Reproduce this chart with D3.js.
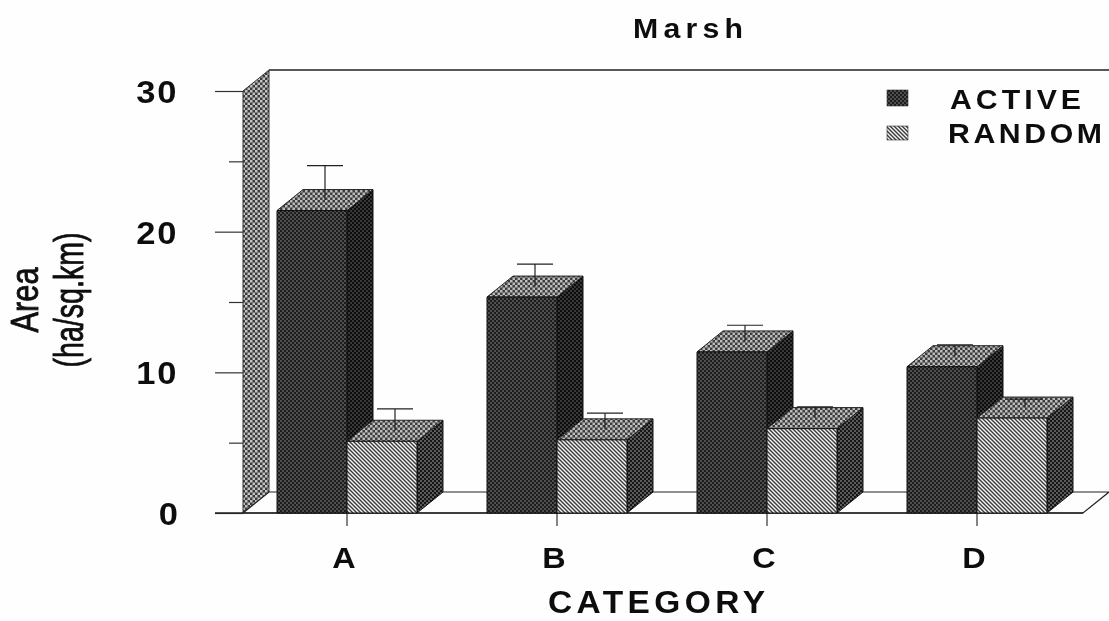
<!DOCTYPE html>
<html><head><meta charset="utf-8">
<script src="https://cdnjs.cloudflare.com/ajax/libs/d3/7.8.5/d3.min.js"></script>
<style>
html,body{margin:0;padding:0;background:#fefefe;overflow:hidden}
svg{display:block}
text{font-family:"Liberation Sans",Arial,sans-serif;fill:#111;font-weight:bold}
</style></head><body>
<svg id="c" width="1109" height="621"></svg>
<script>
const categories = ["A","B","C","D"];
const seriesNames = ["ACTIVE","RANDOM"];
const activeValues = [21.5,15.35,11.45,10.4];
const randomValues = [5.1,5.2,6.0,6.75];
const activeUpper = [23.95,16.95,12.6,11.2];
const randomUpper = [6.65,6.35,6.8,7.35];
const majorTicks = [0,10,20,30];
const minorTicks = [5,15,25];

const W=1109,H=621;
const dx=26, dy=-21; // 3-D depth offset
const svg=d3.select("#c");
const y=d3.scaleLinear().domain([0,30]).range([513,91]);
const x=d3.scaleBand().domain(categories).range([242,1082]);
const sub=d3.scaleBand().domain(seriesNames).range([-70,70]);
const yMax=y(30);
const FONT='"Liberation Sans",Arial,sans-serif';
const WIDEN=1.08;

const defs=svg.append("defs");
defs.append("filter").attr("id","scan").attr("x",0).attr("y",0).attr("width","100%").attr("height","100%")
  .append("feGaussianBlur").attr("stdDeviation",0.5);
function checker(id,bg,fg,size){
  const p=defs.append("pattern").attr("id",id).attr("patternUnits","userSpaceOnUse").attr("width",size*2).attr("height",size*2);
  p.append("rect").attr("width",size*2).attr("height",size*2).attr("fill",bg);
  p.append("rect").attr("width",size).attr("height",size).attr("fill",fg);
  p.append("rect").attr("x",size).attr("y",size).attr("width",size).attr("height",size).attr("fill",fg);
}
checker("pFront","#1a1a1a","#505050",2);
checker("pSide","#0a0a0a","#383838",2);
checker("pTop","#3c3c3c","#bcbcbc",2.5);
checker("pWall","#3a3a3a","#c4c4c4",2.5);
checker("pSideR","#141414","#5a5a5a",2);
const h=defs.append("pattern").attr("id","pHatch").attr("patternUnits","userSpaceOnUse").attr("width",4).attr("height",4);
h.append("rect").attr("width",4).attr("height",4).attr("fill","#f4f4f4");
h.append("path").attr("d","M-1,-1 L5,5 M-1,3 L1,5 M3,-1 L5,1").attr("stroke","#3a3a3a").attr("stroke-width",1.4).attr("fill","none");

const root=svg.append("g").attr("filter","url(#scan)");
root.append("rect").attr("width",W).attr("height",H).attr("fill","#fefefe");

const x0=243, x1=1083;
const poly=(pts,fill,stroke,sw)=>root.append("polygon").attr("points",pts.map(p=>p.join(",")).join(" "))
  .attr("fill",fill).attr("stroke",stroke||"none").attr("stroke-width",sw||1);
// back wall & floor
poly([[x0,y(0)],[x0,yMax],[x0+dx,yMax+dy],[x0+dx,y(0)+dy]],"url(#pWall)","#333",1);
poly([[x0,y(0)],[x0+dx,y(0)+dy],[x1+dx,y(0)+dy],[x1,y(0)]],"#fefefe","#222",1.2);
root.append("line").attr("x1",x0+dx).attr("x2",W).attr("y1",yMax+dy).attr("y2",yMax+dy).attr("stroke","#222").attr("stroke-width",1.3);

// y axis through d3 axes
const minor=root.append("g").attr("transform",`translate(${x0},0)`).call(d3.axisLeft(y).tickValues(minorTicks).tickSize(14).tickFormat(""));
const major=root.append("g").attr("transform",`translate(${x0},0)`).call(d3.axisLeft(y).tickValues(majorTicks).tickSize(28).tickPadding(8).tickFormat(d3.format("d")));
[minor,major].forEach(g=>{g.select(".domain").remove();g.selectAll("line").attr("stroke","#333").attr("stroke-width",1.2);});
major.selectAll("text").attr("font-size",32).attr("x",0).attr("dy","0.36em")
  .attr("transform",`translate(-65,0) scale(${WIDEN},1)`)
  .attr("letter-spacing",d=>d===0?0:1.5)
  .style("font-family",FONT).style("font-weight","bold");

// x axis
const xa=root.append("g").attr("transform","translate(0,513)").call(d3.axisBottom(x).tickSize(13).tickPadding(22));
xa.select(".domain").remove();
xa.selectAll("line").attr("stroke","#333").attr("stroke-width",1.2);
xa.selectAll("text").attr("font-size",30).attr("y",0).attr("dy",0)
  .attr("transform",`translate(-3,55) scale(${WIDEN},1)`)
  .style("font-family",FONT).style("font-weight","bold");
root.append("line").attr("x1",x0-28).attr("x2",x1).attr("y1",513).attr("y2",513).attr("stroke","#222").attr("stroke-width",1.3);

// bars
function bar(cat,s,val,up,front,side){
  const c=x(cat)+x.bandwidth()/2;
  const a=c+sub(s), b=a+sub.bandwidth(), t=y(val), z=y(0);
  poly([[b,t],[b+dx,t+dy],[b+dx,z+dy],[b,z]],side,"#111",1);
  poly([[a,t],[a+dx,t+dy],[b+dx,t+dy],[b,t]],"url(#pTop)","#222",1);
  poly([[a,t],[b,t],[b,z],[a,z]],front,"#111",1);
  const ex=(a+b)/2+dx/2, ey0=t+dy/2, ey1=y(up)+dy/2;
  root.append("line").attr("x1",ex).attr("x2",ex).attr("y1",ey0).attr("y2",ey1).attr("stroke","#222").attr("stroke-width",1.2);
  root.append("line").attr("x1",ex-18).attr("x2",ex+18).attr("y1",ey1).attr("y2",ey1).attr("stroke","#222").attr("stroke-width",1.2);
}
categories.forEach((cat,i)=>{
  bar(cat,seriesNames[0],activeValues[i],activeUpper[i],"url(#pFront)","url(#pSide)");
  bar(cat,seriesNames[1],randomValues[i],randomUpper[i],"url(#pHatch)","url(#pSideR)");
});

// text helper: left edge + exact width, glyphs widened, remainder as letter spacing
const txt=(s,xp,yp,size,len)=>root.append("text").attr("transform",`translate(${xp},${yp}) scale(${WIDEN},1)`)
  .attr("font-size",size).attr("textLength",len/WIDEN).attr("lengthAdjust","spacing").text(s);
txt("Marsh",633,38,28,110);
txt("CATEGORY",548,613,31,217);

// y title, condensed
[["Area",38,38,65],["(ha/sq.km)",83,40,135]].forEach(([s,xp,size,len])=>{
  root.append("text").attr("transform",`translate(${xp},${300+len/2}) rotate(-90)`)
    .attr("font-size",size).attr("textLength",len).attr("lengthAdjust","spacingAndGlyphs")
    .style("font-weight","normal").style("stroke","#111").style("stroke-width",0.9).text(s);
});

// legend
const legSwatchY=[90,126], legSwatchH=[16,14], legTextX=[950,948], legTextY=[109,143], legTextW=[131,154];
seriesNames.forEach((s,i)=>{
  root.append("rect").attr("x",887).attr("y",legSwatchY[i]).attr("width",21).attr("height",legSwatchH[i])
    .attr("fill",i?"url(#pHatch)":"url(#pFront)").attr("stroke","#333").attr("stroke-width",0.6);
  txt(s,legTextX[i],legTextY[i],28,legTextW[i]);
});
</script></body></html>
